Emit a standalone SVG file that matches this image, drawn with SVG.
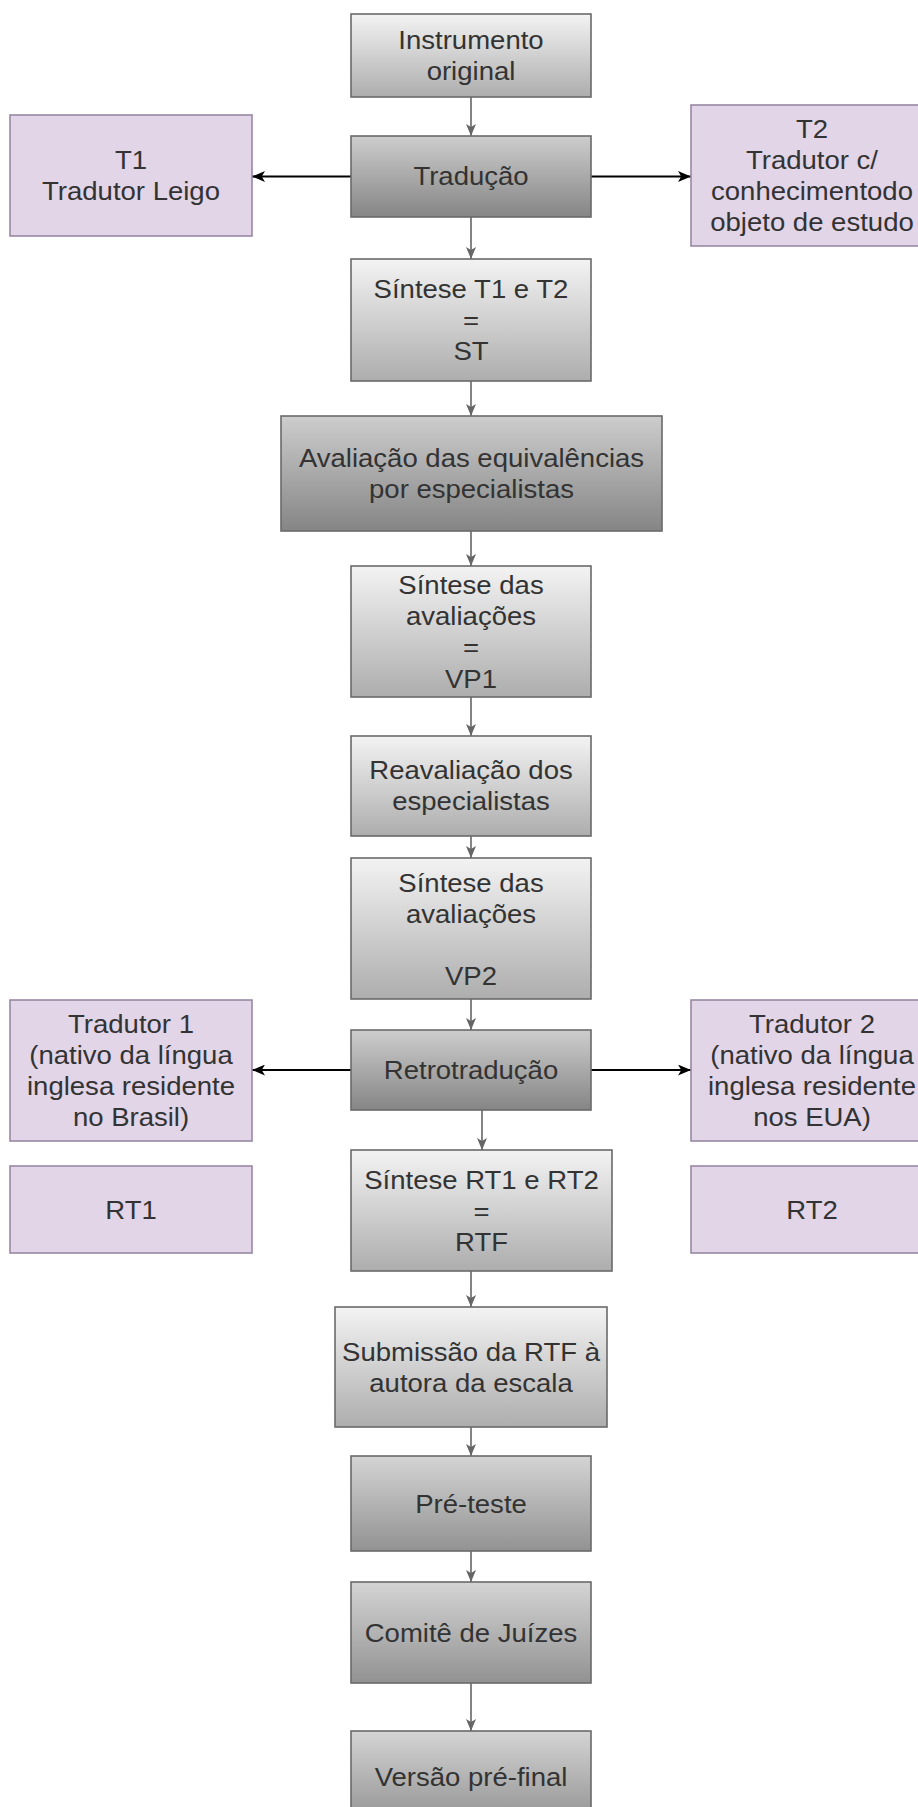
<svg xmlns="http://www.w3.org/2000/svg" width="918" height="1807" viewBox="0 0 918 1807">
<defs>
<linearGradient id="gLight" x1="0" y1="0" x2="0" y2="1"><stop offset="0" stop-color="#f3f3f3"/><stop offset="1" stop-color="#adadad"/></linearGradient>
<linearGradient id="gDark" x1="0" y1="0" x2="0" y2="1"><stop offset="0" stop-color="#cdcdcd"/><stop offset="1" stop-color="#858585"/></linearGradient>
<linearGradient id="gMid" x1="0" y1="0" x2="0" y2="1"><stop offset="0" stop-color="#d4d4d4"/><stop offset="1" stop-color="#929292"/></linearGradient>
<marker id="aGray" viewBox="0 0 12 10" refX="12" refY="5" markerWidth="12" markerHeight="10" markerUnits="userSpaceOnUse" orient="auto"><path d="M0,0 L12,5 L0,10 L3,5 z" fill="#666"/></marker>
<marker id="aBlack" viewBox="0 0 12 10" refX="12" refY="5" markerWidth="13" markerHeight="11" markerUnits="userSpaceOnUse" orient="auto"><path d="M0,0 L12,5 L0,10 L3,5 z" fill="#000"/></marker>
</defs>
<style>
.box{stroke:#6a6a6a;stroke-width:1.6}
.light{fill:url(#gLight)}
.dark{fill:url(#gDark)}
.mid{fill:url(#gMid)}
.lav{fill:#e1d5e7;stroke:#9a88a4;stroke-width:1.6}
text{font-family:"Liberation Sans",Arial,sans-serif;font-size:25.5px;fill:#333;text-anchor:middle}
.cg{stroke:#666;stroke-width:1.6;fill:none;marker-end:url(#aGray)}
.cb{stroke:#000;stroke-width:2;fill:none;marker-end:url(#aBlack)}
</style>
<rect width="918" height="1807" fill="#fff"/>
<g id="connectors">
<line class="cg" x1="471" y1="97" x2="471" y2="136"/>
<line class="cg" x1="471" y1="217" x2="471" y2="259"/>
<line class="cb" x1="351" y1="176.5" x2="252" y2="176.5"/>
<line class="cb" x1="591" y1="176.5" x2="691" y2="176.5"/>
<line class="cg" x1="471" y1="381" x2="471" y2="416"/>
<line class="cg" x1="471" y1="531" x2="471" y2="566"/>
<line class="cg" x1="471" y1="697" x2="471" y2="736"/>
<line class="cg" x1="471" y1="836" x2="471" y2="858"/>
<line class="cg" x1="471" y1="999" x2="471" y2="1030"/>
<line class="cb" x1="351" y1="1070" x2="252" y2="1070"/>
<line class="cb" x1="591" y1="1070" x2="691" y2="1070"/>
<line class="cg" x1="482" y1="1110" x2="482" y2="1150"/>
<line class="cg" x1="471" y1="1271" x2="471" y2="1307"/>
<line class="cg" x1="471" y1="1427" x2="471" y2="1456"/>
<line class="cg" x1="471" y1="1551" x2="471" y2="1582"/>
<line class="cg" x1="471" y1="1683" x2="471" y2="1731"/>
</g>
<g id="n_instr"><rect class="box light" x="351" y="14" width="240" height="83"/>
<g transform="translate(471,0) scale(1.08,1)"><text x="0" y="49">Instrumento</text><text x="0" y="80">original</text></g></g>
<g id="n_trad"><rect class="box dark" x="351" y="136" width="240" height="81"/>
<g transform="translate(471,0) scale(1.08,1)"><text x="0" y="185.5">Tradução</text></g></g>
<g id="n_t1"><rect class="lav" x="10" y="115" width="242" height="121"/>
<g transform="translate(131,0) scale(1.08,1)"><text x="0" y="169">T1</text><text x="0" y="200">Tradutor Leigo</text></g></g>
<g id="n_t2"><rect class="lav" x="691" y="105" width="242" height="141"/>
<g transform="translate(812,0) scale(1.08,1)"><text x="0" y="138">T2</text><text x="0" y="169">Tradutor c/</text><text x="0" y="200">conhecimentodo</text><text x="0" y="231">objeto de estudo</text></g></g>
<g id="n_st"><rect class="box light" x="351" y="259" width="240" height="122"/>
<g transform="translate(471,0) scale(1.08,1)"><text x="0" y="298">Síntese T1 e T2</text><text x="0" y="329">=</text><text x="0" y="360">ST</text></g></g>
<g id="n_aval"><rect class="box dark" x="281" y="416" width="381" height="115"/>
<g transform="translate(471.5,0) scale(1.08,1)"><text x="0" y="467">Avaliação das equivalências</text><text x="0" y="498">por especialistas</text></g></g>
<g id="n_vp1"><rect class="box light" x="351" y="566" width="240" height="131"/>
<g transform="translate(471,0) scale(1.08,1)"><text x="0" y="594">Síntese das</text><text x="0" y="625">avaliações</text><text x="0" y="656">=</text><text x="0" y="688">VP1</text></g></g>
<g id="n_reav"><rect class="box light" x="351" y="736" width="240" height="100"/>
<g transform="translate(471,0) scale(1.08,1)"><text x="0" y="779.5">Reavaliação dos</text><text x="0" y="810.5">especialistas</text></g></g>
<g id="n_vp2"><rect class="box light" x="351" y="858" width="240" height="141"/>
<g transform="translate(471,0) scale(1.08,1)"><text x="0" y="892">Síntese das</text><text x="0" y="923">avaliações</text><text x="0" y="985">VP2</text></g></g>
<g id="n_retro"><rect class="box dark" x="351" y="1030" width="240" height="80"/>
<g transform="translate(471,0) scale(1.08,1)"><text x="0" y="1079">Retrotradução</text></g></g>
<g id="n_tr1"><rect class="lav" x="10" y="1000" width="242" height="141"/>
<g transform="translate(131,0) scale(1.08,1)"><text x="0" y="1033">Tradutor 1</text><text x="0" y="1064">(nativo da língua</text><text x="0" y="1095">inglesa residente</text><text x="0" y="1126">no Brasil)</text></g></g>
<g id="n_tr2"><rect class="lav" x="691" y="1000" width="242" height="141"/>
<g transform="translate(812,0) scale(1.08,1)"><text x="0" y="1033">Tradutor 2</text><text x="0" y="1064">(nativo da língua</text><text x="0" y="1095">inglesa residente</text><text x="0" y="1126">nos EUA)</text></g></g>
<g id="n_rt1"><rect class="lav" x="10" y="1166" width="242" height="87"/>
<g transform="translate(131,0) scale(1.08,1)"><text x="0" y="1219">RT1</text></g></g>
<g id="n_rt2"><rect class="lav" x="691" y="1166" width="242" height="87"/>
<g transform="translate(812,0) scale(1.08,1)"><text x="0" y="1219">RT2</text></g></g>
<g id="n_rtf"><rect class="box light" x="351" y="1150" width="261" height="121"/>
<g transform="translate(481.5,0) scale(1.08,1)"><text x="0" y="1189">Síntese RT1 e RT2</text><text x="0" y="1220">=</text><text x="0" y="1251">RTF</text></g></g>
<g id="n_sub"><rect class="box light" x="335" y="1307" width="272" height="120"/>
<g transform="translate(471,0) scale(1.08,1)"><text x="0" y="1361">Submissão da RTF à</text><text x="0" y="1392">autora da escala</text></g></g>
<g id="n_pre"><rect class="box mid" x="351" y="1456" width="240" height="95"/>
<g transform="translate(471,0) scale(1.08,1)"><text x="0" y="1513">Pré-teste</text></g></g>
<g id="n_com"><rect class="box mid" x="351" y="1582" width="240" height="101"/>
<g transform="translate(471,0) scale(1.08,1)"><text x="0" y="1642">Comitê de Juízes</text></g></g>
<g id="n_ver"><rect class="box mid" x="351" y="1731" width="240" height="92"/>
<g transform="translate(471,0) scale(1.08,1)"><text x="0" y="1786">Versão pré-final</text></g></g>
</svg>
